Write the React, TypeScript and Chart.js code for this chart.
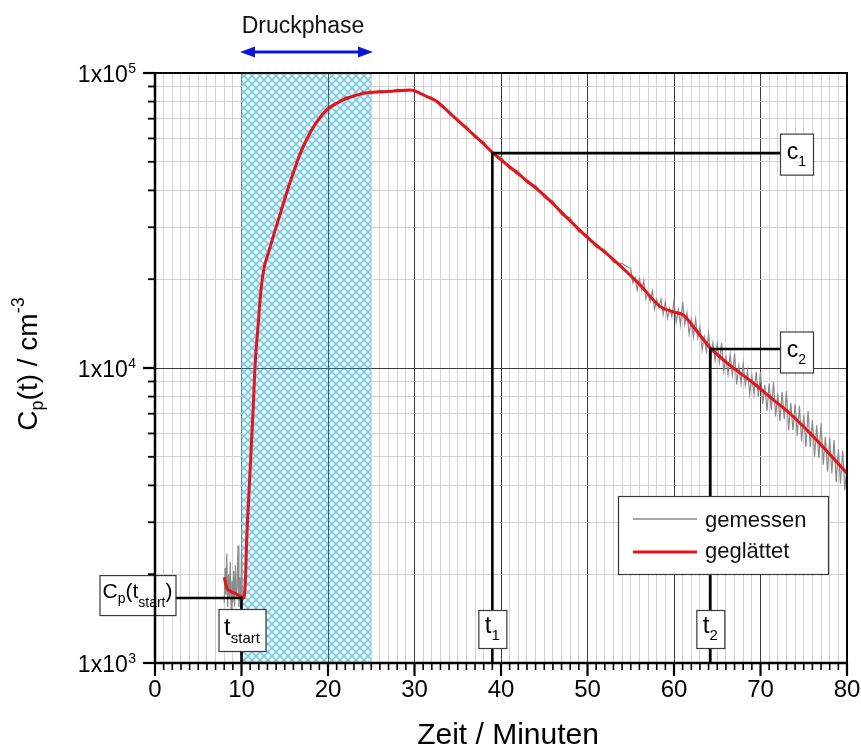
import { useEffect, useRef } from 'react';
import { Chart, registerables } from 'chart.js';
Chart.register(...registerables);

const FONT = '"Liberation Sans", Arial, Helvetica, sans-serif';

// ---------- data ----------
const xTickValues = [0, 10, 20, 30, 40, 50, 60, 70, 80];
const yDecades = [1000, 10000, 100000];
const yExponents = ['3', '4', '5'];
const seriesLabels = ['gemessen', 'geglättet'];

// smoothed curve (geglättet)
const redTimes = [8.0, 8.3, 8.7, 9.3, 9.9, 10.25, 10.45, 10.6, 10.98, 11.36, 11.56, 11.94, 12.25, 12.6, 13.1, 13.68, 14.5, 15.2, 16.0, 16.8, 17.9, 18.8, 19.85, 21.0, 22.2, 24.1, 26.4, 28.0, 29.5, 30.25, 31.5, 32.6, 34.1, 36.0, 38.0, 39.1, 42.0, 45.0, 48.0, 50.1, 53.0, 56.1, 58.4, 59.9, 61.1, 62.5, 64.2, 66.5, 69.2, 71.5, 73.4, 76.0, 78.0, 80.0];
const redValues = [1950, 1800, 1750, 1720, 1680, 1660, 1900, 2610, 4400, 7400, 10100, 14200, 18400, 21800, 24500, 28000, 33500, 39100, 46000, 53500, 62500, 69000, 75000, 79000, 82100, 85300, 86400, 87000, 87600, 86400, 83000, 80000, 73000, 65000, 57500, 53500, 45500, 38500, 31500, 27500, 23300, 19100, 16150, 15500, 15100, 13500, 11700, 10200, 8880, 7800, 7010, 5900, 5100, 4400];

// measured curve (gemessen), in pieces
const grayStartValues = [1600, 2100, 1700, 2350, 1550, 2000, 1650, 2200, 1500, 1900, 1600, 2050, 1550, 2150, 1650, 1800, 2500, 1550, 1950, 1500, 2400, 1600, 1700]; // t = 8.0 .. 10.2, every 0.1
const grayRiseTimes = [10.4, 10.6, 10.8, 11.0, 11.2, 11.4, 11.6, 11.8, 12.0, 12.3, 12.6, 13.0, 13.5];
const grayRiseValues = [1800, 2550, 3350, 4500, 5800, 7800, 10500, 12600, 14900, 18900, 21500, 24200, 26800];
const grayMidValues = [30000, 36800, 46800, 54200, 64000, 69200, 76800, 78200, 83000, 82900, 86600, 85000, 87500, 85800, 88200, 86600, 87900, 83700, 82800, 77000, 74600, 68200, 66100, 60200, 58500, 53000, 52000, 47200, 46500, 42300, 41600, 37800, 36900, 33000, 32300, 28900, 28300, 25600, 25200, 22800, 22600]; // t = 14 .. 54, every 1
const grayTailValues = [
  21700, 19450, 20250, 18350,
  20150, 18400, 19800, 17150,
  17950, 16800, 18250, 15800,
  17100, 16050, 17100, 15200,
  16750, 14750, 15900, 14900,
  16850, 14300, 15750, 14000,
  16750, 14050, 15400, 13000,
  14550, 12750, 14650, 12650,
  13800, 11500, 12750, 11400,
  13100, 10750, 12150, 10600,
  12100, 10450, 12150, 9750,
  10900, 9500, 11100, 9450,
  11200, 8800, 10150, 8850,
  10350, 8750, 9800, 8150,
  9400, 8150, 9700, 8000,
  9700, 7550, 8750, 7150,
  8850, 7200, 9000, 6850,
  8200, 6600, 8300, 6700,
  8350, 6150, 7600, 6150,
  7550, 5900, 7450, 5650,
  6950, 5400, 7150, 5400,
  6650, 5000, 6400, 4950,
  6500, 4700, 5850, 4450,
  5800, 4400, 5700, 4100,
  5300, 4050, 5250, 3850,
  4650,
]; // t = 55 .. 80, every 0.25

const pressurePhase = [10, 25];
const tStart = 10;
const cpStart = 1660;
const t1 = 39;
const c1 = 53500;
const t2 = 64.2;
const c2 = 11600;

// ---------- helpers ----------
type Part = { text: string; size: number; dy?: number };

function richWidth(ctx: CanvasRenderingContext2D, parts: Part[]) {
  let w = 0;
  for (const p of parts) {
    ctx.font = `${p.size}px ${FONT}`;
    w += ctx.measureText(p.text).width;
  }
  return w;
}

function drawRich(ctx: CanvasRenderingContext2D, parts: Part[], x: number, y: number, align: 'left' | 'center' | 'right') {
  const w = richWidth(ctx, parts);
  let cx = align === 'center' ? x - w / 2 : align === 'right' ? x - w : x;
  ctx.textAlign = 'left';
  ctx.textBaseline = 'alphabetic';
  for (const p of parts) {
    ctx.font = `${p.size}px ${FONT}`;
    ctx.fillText(p.text, cx, y + (p.dy || 0));
    cx += ctx.measureText(p.text).width;
  }
}

function drawBox(ctx: CanvasRenderingContext2D, l: number, t: number, r: number, b: number) {
  ctx.fillStyle = '#ffffff';
  ctx.fillRect(l, t, r - l, b - t);
  ctx.strokeStyle = '#3a3a3a';
  ctx.lineWidth = 1.2;
  ctx.strokeRect(l + 0.5, t + 0.5, r - l, b - t);
}

const MAJOR = '#3c3c3c';
const MINOR = '#d2d2d2';

function isDecade(v: number) {
  return yDecades.some((d) => Math.abs(v - d) < 1e-6);
}

const chartPlugin = {
  id: 'custom',
  beforeDraw(chart: any) {
    const ctx = chart.ctx;
    ctx.save();
    ctx.fillStyle = '#ffffff';
    ctx.fillRect(0, 0, chart.width, chart.height);
    ctx.restore();
  },
  beforeDatasetsDraw(chart: any) {
    const ctx: CanvasRenderingContext2D = chart.ctx;
    const xs = chart.scales.x;
    const ys = chart.scales.y;
    const area = chart.chartArea;
    const pc = document.createElement('canvas');
    pc.width = 8;
    pc.height = 8;
    const p = pc.getContext('2d')!;
    p.fillStyle = '#e4f6fb';
    p.fillRect(0, 0, 8, 8);
    p.strokeStyle = '#72c5dd';
    p.lineWidth = 1.4;
    p.beginPath();
    p.moveTo(0, 0);
    p.lineTo(8, 8);
    p.moveTo(8, 0);
    p.lineTo(0, 8);
    p.stroke();
    const pattern = ctx.createPattern(pc, 'repeat')!;
    const l = xs.getPixelForValue(pressurePhase[0]);
    const r = xs.getPixelForValue(pressurePhase[1]);
    ctx.save();
    ctx.fillStyle = pattern;
    ctx.fillRect(l, area.top, r - l, area.bottom - area.top);
    ctx.strokeStyle = '#35606e';
    ctx.lineWidth = 1;
    ctx.beginPath();
    for (const v of xTickValues) {
      if (v > pressurePhase[0] && v < pressurePhase[1]) {
        const x = Math.round(xs.getPixelForValue(v)) + 0.5;
        ctx.moveTo(x, area.top);
        ctx.lineTo(x, area.bottom);
      }
    }
    for (const d of yDecades) {
      const y = Math.round(ys.getPixelForValue(d)) + 0.5;
      ctx.moveTo(l, y);
      ctx.lineTo(r, y);
    }
    ctx.stroke();
    ctx.restore();
  },
  afterDraw(chart: any) {
    const ctx: CanvasRenderingContext2D = chart.ctx;
    const xs = chart.scales.x;
    const ys = chart.scales.y;
    const area = chart.chartArea;
    const px = (v: number) => xs.getPixelForValue(v);
    const py = (v: number) => ys.getPixelForValue(v);
    const bottom = area.bottom;
    ctx.save();

    // annotation lines
    ctx.strokeStyle = '#000000';
    ctx.lineWidth = 2.6;
    ctx.lineCap = 'butt';
    const cBoxL = area.right - 67;
    const cpBoxR = px(tStart) - 66;
    ctx.beginPath();
    ctx.moveTo(px(tStart), bottom);
    ctx.lineTo(px(tStart), py(cpStart));
    ctx.moveTo(cpBoxR, py(cpStart));
    ctx.lineTo(px(tStart) + 1.3, py(cpStart));
    ctx.moveTo(px(t1), bottom);
    ctx.lineTo(px(t1), py(c1));
    ctx.lineTo(cBoxL, py(c1));
    ctx.moveTo(px(t2), bottom);
    ctx.lineTo(px(t2), py(c2));
    ctx.lineTo(cBoxL, py(c2));
    ctx.stroke();

    // label boxes
    {
      const cy = py(cpStart) - 3;
      drawBox(ctx, cpBoxR - 76, cy - 20, cpBoxR, cy + 20);
      ctx.fillStyle = '#000';
      drawRich(ctx, [
        { text: 'C', size: 21 },
        { text: 'p', size: 14, dy: 5 },
        { text: '(t', size: 21 },
        { text: 'start', size: 14, dy: 9 },
        { text: ')', size: 21 },
      ], cpBoxR - 38, cy + 3, 'center');
    }
    {
      const cx = px(tStart) + 0.5;
      drawBox(ctx, cx - 23.5, bottom - 54, cx + 23.5, bottom - 12);
      ctx.fillStyle = '#000';
      drawRich(ctx, [
        { text: 't', size: 24 },
        { text: 'start', size: 15, dy: 8 },
      ], cx, bottom - 28, 'center');
    }
    for (const [tv, sub] of [[t1, '1'], [t2, '2']] as [number, string][]) {
      const cx = px(tv);
      drawBox(ctx, cx - 14, bottom - 53, cx + 14, bottom - 15);
      ctx.fillStyle = '#000';
      drawRich(ctx, [
        { text: 't', size: 24 },
        { text: sub, size: 15, dy: 7 },
      ], cx, bottom - 30, 'center');
    }
    for (const [cv, sub, off] of [[c1, '1', 1], [c2, '2', 3]] as [number, string, number][]) {
      const cy = py(cv) + off;
      drawBox(ctx, cBoxL, cy - 20.5, cBoxL + 33, cy + 20.5);
      ctx.fillStyle = '#000';
      drawRich(ctx, [
        { text: 'c', size: 23 },
        { text: sub, size: 14, dy: 7 },
      ], cBoxL + 16.5, cy + 5, 'center');
    }

    // legend
    {
      const l = area.right - 229;
      const r = area.right - 19;
      const t = bottom - 167;
      const b = bottom - 89;
      drawBox(ctx, l, t, r, b);
      ctx.lineWidth = 1.5;
      ctx.strokeStyle = '#8a8a8a';
      ctx.beginPath();
      ctx.moveTo(l + 15, t + 23);
      ctx.lineTo(l + 79, t + 23);
      ctx.stroke();
      ctx.lineWidth = 3;
      ctx.strokeStyle = '#e3141c';
      ctx.beginPath();
      ctx.moveTo(l + 15, t + 56);
      ctx.lineTo(l + 79, t + 56);
      ctx.stroke();
      ctx.fillStyle = '#111';
      ctx.font = `22px ${FONT}`;
      ctx.textAlign = 'left';
      ctx.textBaseline = 'alphabetic';
      ctx.fillText(seriesLabels[0], l + 87, t + 31);
      ctx.fillText(seriesLabels[1], l + 87, t + 62);
    }

    // frame
    ctx.strokeStyle = '#000';
    ctx.lineWidth = 2;
    ctx.strokeRect(area.left, area.top, area.right - area.left, area.bottom - area.top);
    ctx.lineWidth = 2.5;
    ctx.beginPath();
    ctx.moveTo(area.left, area.top - 1);
    ctx.lineTo(area.left, area.bottom + 1);
    ctx.moveTo(area.left - 1, area.bottom);
    ctx.lineTo(area.right + 1, area.bottom);
    ctx.stroke();

    // x ticks
    for (let m = 0; m <= 80; m++) {
      const x = px(m);
      const major = m % 10 === 0;
      ctx.lineWidth = major ? 2.2 : 1.6;
      ctx.beginPath();
      ctx.moveTo(x, bottom);
      ctx.lineTo(x, bottom + (major ? 13 : 7));
      ctx.stroke();
    }
    // y ticks
    for (const d of yDecades) {
      for (let k = 1; k <= 9; k++) {
        const v = d * k;
        if (v > 100000) continue;
        const y = py(v);
        const major = k === 1;
        ctx.lineWidth = major ? 2.2 : 1.8;
        ctx.beginPath();
        ctx.moveTo(area.left, y);
        ctx.lineTo(area.left - (major ? 12 : 7), y);
        ctx.stroke();
      }
    }

    // x tick labels
    ctx.fillStyle = '#000';
    ctx.font = `24px ${FONT}`;
    ctx.textAlign = 'center';
    ctx.textBaseline = 'alphabetic';
    for (const v of xTickValues) {
      ctx.fillText(String(v), px(v), bottom + 34);
    }
    // y tick labels
    yDecades.forEach((d, i) => {
      const y = py(d);
      ctx.font = `14px ${FONT}`;
      const sw = ctx.measureText(yExponents[i]).width;
      ctx.textAlign = 'right';
      ctx.fillText(yExponents[i], 136, y);
      ctx.font = `23px ${FONT}`;
      ctx.fillText('1x10', 136 - sw - 0.5, y + 9);
    });

    // axis titles
    ctx.fillStyle = '#000';
    ctx.font = `30px ${FONT}`;
    ctx.textAlign = 'center';
    ctx.fillText('Zeit / Minuten', (area.left + area.right) / 2 + 7, 744);

    ctx.save();
    ctx.translate(37, 364);
    ctx.rotate(-Math.PI / 2);
    drawRich(ctx, [
      { text: 'C', size: 28 },
      { text: 'p', size: 18, dy: 6 },
      { text: '(t) / cm', size: 28 },
      { text: '-3', size: 18, dy: -13 },
    ], 0, 0, 'center');
    ctx.restore();

    // Druckphase
    ctx.fillStyle = '#111';
    ctx.font = `23px ${FONT}`;
    ctx.textAlign = 'center';
    ctx.fillText('Druckphase', 303, 33);
    {
      const x0 = 240;
      const x1 = 373;
      const y = 52;
      ctx.strokeStyle = '#0a18d6';
      ctx.fillStyle = '#0a18d6';
      ctx.lineWidth = 3;
      ctx.beginPath();
      ctx.moveTo(x0 + 10, y);
      ctx.lineTo(x1 - 10, y);
      ctx.stroke();
      ctx.beginPath();
      ctx.moveTo(x0, y);
      ctx.lineTo(x0 + 15, y - 5.5);
      ctx.lineTo(x0 + 15, y + 5.5);
      ctx.closePath();
      ctx.fill();
      ctx.beginPath();
      ctx.moveTo(x1, y);
      ctx.lineTo(x1 - 15, y - 5.5);
      ctx.lineTo(x1 - 15, y + 5.5);
      ctx.closePath();
      ctx.fill();
    }
    ctx.restore();
  },
};

export default function App() {
  const ref = useRef<HTMLCanvasElement | null>(null);
  useEffect(() => {
    if (!ref.current) return;
    const grayPoints = [
      ...grayStartValues.map((v, i) => ({ x: 8 + i * 0.1, y: v })),
      ...grayRiseTimes.map((t, i) => ({ x: t, y: grayRiseValues[i] })),
      ...grayMidValues.map((v, i) => ({ x: 14 + i, y: v })),
      ...grayTailValues.map((v, i) => ({ x: 55 + i * 0.25, y: v })),
    ];
    const redPoints = redTimes.map((t, i) => ({ x: t, y: redValues[i] }));
    const minuteTicks = Array.from({ length: 81 }, (_, i) => ({ value: i }));
    const logTicks: { value: number }[] = [];
    yDecades.forEach((d) => {
      for (let k = 1; k <= 9; k++) if (d * k <= 100000) logTicks.push({ value: d * k });
    });

    const chart = new Chart(ref.current, {
      type: 'line',
      data: {
        datasets: [
          {
            label: seriesLabels[0],
            data: grayPoints,
            borderColor: '#8a8a8a',
            borderWidth: 1.2,
            pointRadius: 0,
            tension: 0,
            order: 2,
          },
          {
            label: seriesLabels[1],
            data: redPoints,
            borderColor: '#e3141c',
            borderWidth: 3,
            pointRadius: 0,
            cubicInterpolationMode: 'monotone',
            order: 1,
          },
        ],
      },
      options: {
        responsive: false,
        animation: false,
        layout: { padding: { top: 73, right: 14, left: 0, bottom: 0 } },
        plugins: { legend: { display: false }, tooltip: { enabled: false } },
        scales: {
          x: {
            type: 'linear',
            min: 0,
            max: 80,
            afterBuildTicks: (s: any) => {
              s.ticks = minuteTicks;
            },
            afterFit: (s: any) => {
              s.height = 86;
            },
            ticks: { display: false },
            grid: {
              drawTicks: false,
              color: (c: any) => (c.tick && c.tick.value % 10 === 0 ? MAJOR : MINOR),
              lineWidth: 1,
            },
            border: { display: false },
          },
          y: {
            type: 'logarithmic',
            min: 1000,
            max: 100000,
            afterBuildTicks: (s: any) => {
              s.ticks = logTicks;
            },
            afterFit: (s: any) => {
              s.width = 155;
            },
            ticks: { display: false },
            grid: {
              drawTicks: false,
              color: (c: any) => (c.tick && isDecade(c.tick.value) ? MAJOR : MINOR),
              lineWidth: 1,
            },
            border: { display: false },
          },
        },
      } as any,
      plugins: [chartPlugin],
    });
    return () => chart.destroy();
  }, []);

  return (
    <div style={{ position: 'fixed', left: 0, top: 0, width: 861, height: 749, background: '#fff' }}>
      <canvas ref={ref} width={861} height={749} style={{ display: 'block', width: 861, height: 749 }} />
    </div>
  );
}
